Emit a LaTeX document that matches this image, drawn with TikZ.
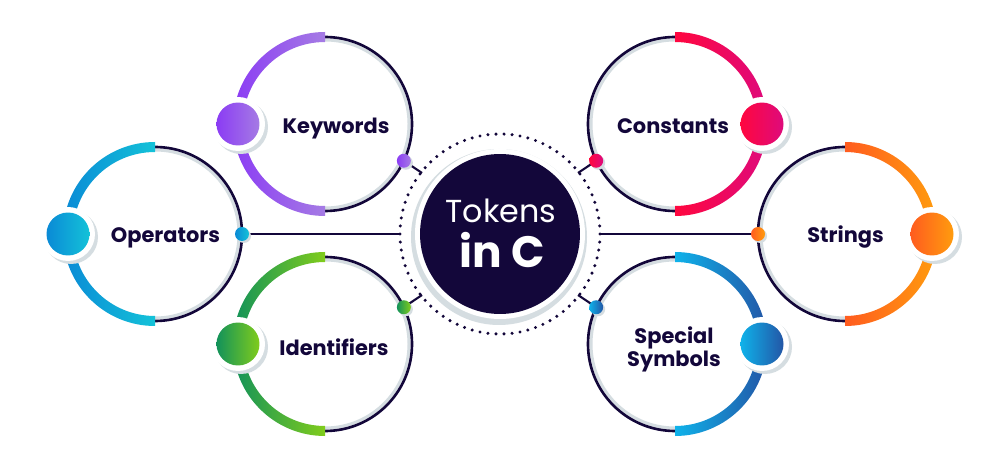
\documentclass[tikz,border=0pt]{standalone}
\usepackage{fontspec}
\setmainfont{Poppins}
\definecolor{navy}{HTML}{13073A}
\definecolor{shgray}{HTML}{D5DDE1}
\definecolor{kwA}{HTML}{8B3CF4}
\definecolor{kwB}{HTML}{A57BE4}
\definecolor{opA}{HTML}{0A8AD6}
\definecolor{opB}{HTML}{14C2D8}
\definecolor{idA}{HTML}{12925A}
\definecolor{idB}{HTML}{80CC1C}
\definecolor{coA}{HTML}{FF073F}
\definecolor{coB}{HTML}{DE0A7C}
\definecolor{stA}{HTML}{FF5C1F}
\definecolor{stB}{HTML}{FF9C0E}
\definecolor{spA}{HTML}{0FB2EA}
\definecolor{spB}{HTML}{2356A6}
\pgfdeclarelayer{background}
\pgfsetlayers{background,main}
\tikzset{
  thinarc/.style={draw=navy, line width=1.5pt},
  shadowring/.style={draw=shgray, line width=1.7pt},
  conn/.style={draw=navy, line width=1.2pt},
  bigdot/.style={circle, inner sep=0pt, minimum size=0.86cm},
  smalldot/.style={circle, inner sep=0pt, minimum size=0.28cm},
  lbl/.style={text=navy, font=\fontsize{11.9}{13}\selectfont\bfseries, inner sep=0pt, anchor=base},
}
% #1 name, #2 cx, #3 cy, #4 start angle of thick arc, #5 small dot angle, #6 left colour, #7 right colour
\newcommand\tokring[7]{%
  \pgfmathsetmacro\tokE{#4+180}%
  \pgfmathsetmacro\tokF{#4+360}%
  \pgfmathsetmacro\tokB{#4+90}%
  \draw[shadowring] (#2,#3) circle[radius=84];
  \draw[thinarc] (#2,#3) ++(\tokE:87) arc[start angle=\tokE, end angle=\tokF, radius=87];
  \shade[left color=#6, right color=#7] (#2,#3) ++(#4:92) arc[start angle=#4, end angle=\tokE, radius=92]
     -- ++(#4:10) arc[start angle=\tokE, end angle=#4, radius=82] -- cycle;
  \fill[shgray] (#2,#3) ++(\tokB:87) ++(3,-3) circle[radius=27];
  \fill[white] (#2,#3) ++(\tokB:87) circle[radius=27];
  \path (#2,#3) ++(\tokB:87) node[bigdot, left color=#6, right color=#7] (#1big) {};
  \fill[shgray] (#2,#3) ++(#5:87) ++(2,-2) circle[radius=7];
  \path (#2,#3) ++(#5:87) node[smalldot, left color=#6, right color=#7] (#1dot) {};
}
\begin{document}
\begin{tikzpicture}[x=0.02cm, y=0.02cm]
\begin{pgfonlayer}{background}
\fill[white] (0,0) rectangle (1000,470);
\end{pgfonlayer}
\useasboundingbox (0,0) rectangle (1000,470);

% central circle
\foreach \i in {0,...,77} \fill[navy] (500,236) ++(\i*4.61538:100) circle[radius=1.7];
\fill[shgray] (499,233) circle[radius=88];
\fill[white] (500,236) circle[radius=85];
\node[circle, fill=navy, minimum size=3.2cm, inner sep=0pt] (center) at (500,236) {};
\node[text=white, font=\fontsize{18.1}{20}\selectfont, inner sep=0pt, anchor=base] (tok) at (501,247) {Tokens};
\node[text=white, font=\fontsize{25}{28}\selectfont\bfseries, inner sep=0pt, anchor=base] (inc) at (502,202) {in C};

\tokring{kw}{325}{346}{90}{-25}{kwA}{kwB}
\tokring{op}{155}{236}{90}{0}{opA}{opB}
\tokring{id}{325}{126}{90}{25}{idA}{idB}
\tokring{co}{675}{346}{-90}{205}{coA}{coB}
\tokring{st}{845}{236}{-90}{180}{stA}{stB}
\tokring{sp}{675}{126}{-90}{155}{spA}{spB}

\coordinate (kwend) at (422,297);
\coordinate (idend) at (422,175);
\coordinate (coend) at (578,297);
\coordinate (spend) at (578,175);
\coordinate (opend) at (399,236);
\coordinate (stend) at (601,236);
\begin{pgfonlayer}{background}
  \draw[conn] (kwdot.center) -- (kwend);
  \draw[conn] (iddot.center) -- (idend);
  \draw[conn] (codot.center) -- (coend);
  \draw[conn] (spdot.center) -- (spend);
  \draw[conn] (opdot.center) -- (opend);
  \draw[conn] (stdot.center) -- (stend);
\end{pgfonlayer}

\node[lbl] (kwl) at (336,336) {Keywords};
\node[lbl] (opl) at (165.5,227) {Operators};
\node[lbl] (idl) at (334,114) {Identifiers};
\node[lbl] (col) at (673,336) {Constants};
\node[lbl] (stl) at (845.5,227) {Strings};
\node[lbl] (spl1) at (674,127) {Special};
\node[lbl] (spl2) at (674,104) {Symbols};
\end{tikzpicture}
\end{document}
